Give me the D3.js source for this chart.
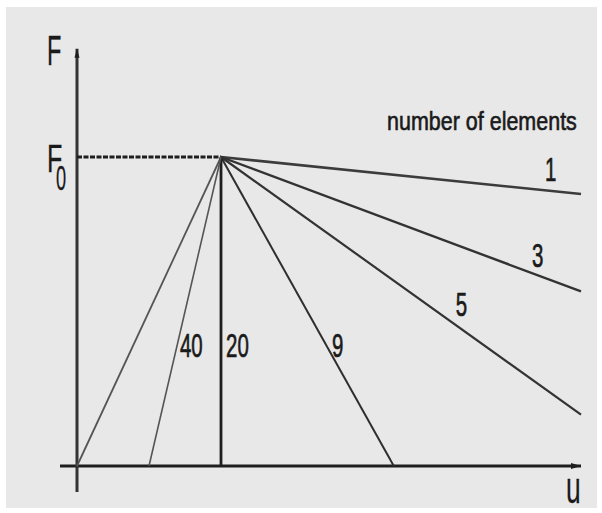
<!DOCTYPE html>
<html><head><meta charset="utf-8">
<script src="https://cdn.jsdelivr.net/npm/d3@7"></script>
<style>body{margin:0;background:#fff}svg{display:block}</style>
</head><body>
<svg id="c" width="602" height="513"></svg>
<script>
// Data (u = displacement in units of peak displacement, F in units of F0)
const peak = {u: 1, F: 1};
const elements = ["1", "3", "5", "9", "20", "40"];
const endU = [3.5, 3.5, 3.5, 2.2, 1, 0.5];
const endF = [0.88, 0.565, 0.166, 0, 0, 0];
const labelU = [3.25, 3.16, 2.63, 1.77, 1.035, 0.715];
const labelF = [0.922, 0.644, 0.485, 0.353, 0.353, 0.353];
const loadU = [0, 1];
const loadF = [0, 1];
const axisU = [-0.118, 3.5];
const axisF = [-0.084, 1.35];

const svg = d3.select("#c");
svg.append("rect").attr("x", 6).attr("y", 7).attr("width", 591).attr("height", 501).attr("fill", "#e8e8e8");

const x = d3.scaleLinear().domain([0, 3.5]).range([77, 581]);
const y = d3.scaleLinear().domain([0, 1]).range([466, 157]);
const line = d3.line().x(d => x(d[0])).y(d => y(d[1]));

const ink = "#1e1e1e";
const font = "'Liberation Sans Narrow','Liberation Sans',Arial,sans-serif";

// axes
const g = svg.append("g");
g.append("path").attr("d", line([[axisU[0], 0], [axisU[1], 0]])).attr("stroke", ink).attr("stroke-width", 3.2).attr("fill", "none");
g.append("path").attr("d", line([[0, axisF[0]], [0, axisF[1]]])).attr("stroke", "#333").attr("stroke-width", 3).attr("fill", "none");
// arrow tips
g.append("path").attr("d", `M${x(axisU[1]) - 10},${y(0) - 3} L${x(axisU[1])},${y(0)} L${x(axisU[1]) - 10},${y(0) + 3}Z`).attr("fill", ink);
g.append("path").attr("d", `M${x(0) - 2.5},${y(axisF[1]) + 9} L${x(0)},${y(axisF[1])} L${x(0) + 2.5},${y(axisF[1]) + 9}Z`).attr("fill", ink);

// F0 dashed line
g.append("path").attr("d", line([[0, peak.F], [peak.u, peak.F]])).attr("stroke", ink).attr("stroke-width", 3).attr("stroke-dasharray", "5,1.5").attr("fill", "none");

// loading branch
g.append("path").attr("d", line(loadU.map((u, i) => [u, loadF[i]]))).attr("stroke", "#555").attr("stroke-width", 1.8).attr("fill", "none");

// softening branches
const widths = [2.6, 2.4, 2.2, 2, 2.8, 1.6];
const cols = ["#3c3c3c", "#333", "#333", "#2e2e2e", "#1e1e1e", "#555"];
elements.forEach((e, i) => {
  g.append("path").attr("d", line([[peak.u, peak.F], [endU[i], endF[i]]]))
    .attr("stroke", cols[i]).attr("stroke-width", widths[i]).attr("fill", "none");
});

function txt(str, px, py, fs, sx, sw) {
  svg.append("text").attr("transform", `translate(${px},${py}) scale(${sx},1)`)
    .attr("font-family", font).attr("font-size", fs).attr("fill", "#1a1a1a")
    .attr("stroke", "#1a1a1a").attr("stroke-width", sw || 0)
    .text(str);
}

// element labels
elements.forEach((e, i) => {
  txt(e, x(labelU[i]), y(labelF[i]), 33, 0.62, 0.7);
});

txt("number of elements", 387, 130, 25, 0.86, 0.6);
txt("F", 47, 65, 42, 0.56, 0.3);
txt("F", 47, 172, 38, 0.66, 0.3);
txt("0", 56, 190, 35, 0.52, 0.3);
txt("u", 566, 503, 44, 0.6, 0.3);
</script>
</body></html>
